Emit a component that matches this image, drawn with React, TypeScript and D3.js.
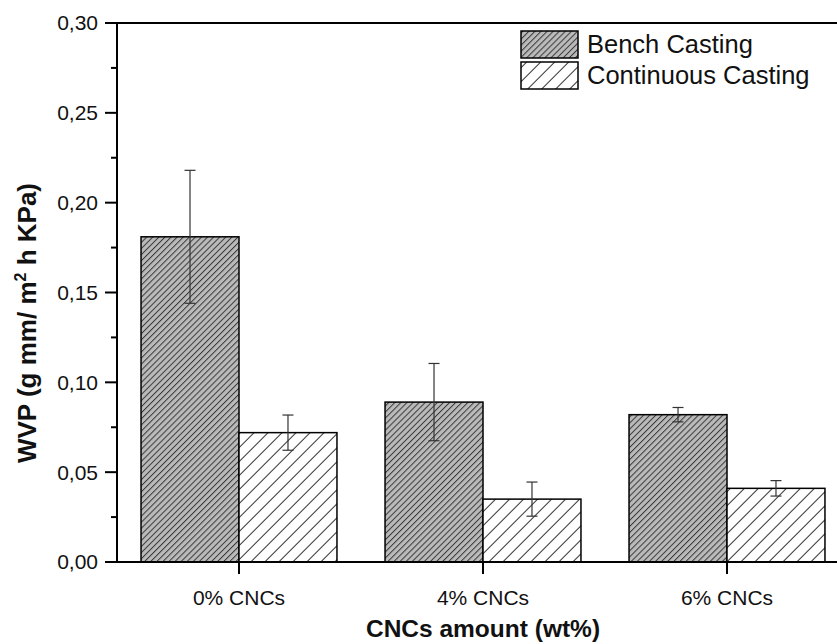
import React from "react";
import * as d3 from "d3";

const categories = ["0% CNCs", "4% CNCs", "6% CNCs"];
const seriesNames = ["Bench Casting", "Continuous Casting"];
const benchValues = [0.181, 0.089, 0.082];
const benchErrors = [0.037, 0.0215, 0.004];
const continuousValues = [0.072, 0.035, 0.041];
const continuousErrors = [0.0098, 0.0095, 0.0043];
const yTicks = [0, 0.05, 0.1, 0.15, 0.2, 0.25, 0.3];
const yMinorTicks = [0.025, 0.075, 0.125, 0.175, 0.225, 0.275];

const W = 837;
const H = 644;
const left = 117;
const right = 849;
const top = 23;
const bottom = 562;
const FONT = "'Liberation Sans', Arial, Helvetica, sans-serif";

export default function App() {
  const x = d3.scaleBand<string>().domain(categories).range([left, right]).paddingInner(0.197).paddingOuter(0.0985);
  const xs = d3.scaleBand<string>().domain(seriesNames).range([0, x.bandwidth()]);
  const y = d3.scaleLinear().domain([0, 0.3]).range([bottom, top]);
  const fmt = (v: number) => d3.format(".2f")(v).replace(".", ",");

  const series = [
    { name: seriesNames[0], values: benchValues, errors: benchErrors, fill: "url(#hatchDense)" },
    { name: seriesNames[1], values: continuousValues, errors: continuousErrors, fill: "url(#hatchSparse)" },
  ];

  return (
    <svg width={W} height={H} style={{ position: "absolute", left: 0, top: 0, background: "#fff" }} fontFamily={FONT}>
      <defs>
        <pattern id="hatchDense" patternUnits="userSpaceOnUse" width={4.3} height={10} patternTransform="rotate(45)">
          <rect width={4.3} height={10} fill="#bababa" />
          <line x1={0.5} y1={0} x2={0.5} y2={10} stroke="#383838" strokeWidth={1} />
        </pattern>
        <pattern id="hatchSparse" patternUnits="userSpaceOnUse" width={9.9} height={10} patternTransform="rotate(45)">
          <rect width={9.9} height={10} fill="#fff" />
          <line x1={0.5} y1={0} x2={0.5} y2={10} stroke="#333" strokeWidth={1} />
        </pattern>
      </defs>

      {/* bars */}
      {series.map((s) =>
        categories.map((c, i) => {
          const bx = (x(c) as number) + (xs(s.name) as number);
          return (
            <rect
              key={s.name + c}
              x={bx}
              y={y(s.values[i])}
              width={xs.bandwidth()}
              height={y(0) - y(s.values[i])}
              fill={s.fill}
              stroke="#000"
              strokeWidth={1.5}
            />
          );
        })
      )}

      {/* error bars */}
      {series.map((s) =>
        categories.map((c, i) => {
          const cx = (x(c) as number) + (xs(s.name) as number) + xs.bandwidth() / 2;
          const y1 = y(s.values[i] + s.errors[i]);
          const y2 = y(s.values[i] - s.errors[i]);
          return (
            <g key={"e" + s.name + c} stroke="#333" strokeWidth={1.2}>
              <line x1={cx} x2={cx} y1={y1} y2={y2} />
              <line x1={cx - 5.5} x2={cx + 5.5} y1={y1} y2={y1} />
              <line x1={cx - 5.5} x2={cx + 5.5} y1={y2} y2={y2} />
            </g>
          );
        })
      )}

      {/* axes frame */}
      <line x1={left} x2={left} y1={top - 1} y2={bottom + 1} stroke="#000" strokeWidth={2} />
      <line x1={left - 1} x2={right} y1={bottom} y2={bottom} stroke="#000" strokeWidth={2} />
      <line x1={left - 1} x2={right} y1={top} y2={top} stroke="#000" strokeWidth={2} />

      {/* y ticks */}
      {yTicks.map((t) => (
        <g key={"yt" + t}>
          <line x1={left - 12} x2={left} y1={y(t)} y2={y(t)} stroke="#000" strokeWidth={2} />
          <text x={left - 19} y={y(t)} dy="0.35em" textAnchor="end" fontSize={21} fill="#111">
            {fmt(t)}
          </text>
        </g>
      ))}
      {yMinorTicks.map((t) => (
        <line key={"ym" + t} x1={left - 6} x2={left} y1={y(t)} y2={y(t)} stroke="#000" strokeWidth={2} />
      ))}

      {/* x ticks */}
      {categories.map((c) => {
        const cx = (x(c) as number) + x.bandwidth() / 2;
        return (
          <g key={"xt" + c}>
            <line x1={cx} x2={cx} y1={bottom} y2={bottom + 12} stroke="#000" strokeWidth={2} />
            <text x={cx} y={605} textAnchor="middle" fontSize={21} fill="#111">
              {c}
            </text>
          </g>
        );
      })}

      {/* axis titles */}
      <text x={(left + right) / 2} y={637} textAnchor="middle" fontSize={24.5} fontWeight="bold" fill="#111">
        CNCs amount (wt%)
      </text>
      <text
        transform={`translate(36, 323) rotate(-90)`}
        textAnchor="middle"
        fontSize={26}
        fontWeight="bold"
        fill="#111"
      >
        WVP (g mm/ m<tspan dy={-10} fontSize={16}>2</tspan>
        <tspan dy={10}> h KPa)</tspan>
      </text>

      {/* legend */}
      {series.map((s, i) => (
        <g key={"lg" + s.name}>
          <rect x={521} y={31 + i * 31} width={57} height={27} fill={s.fill} stroke="#000" strokeWidth={1.5} />
          <text x={587} y={53 + i * 31} fontSize={25.5} fill="#111">
            {s.name}
          </text>
        </g>
      ))}
    </svg>
  );
}
